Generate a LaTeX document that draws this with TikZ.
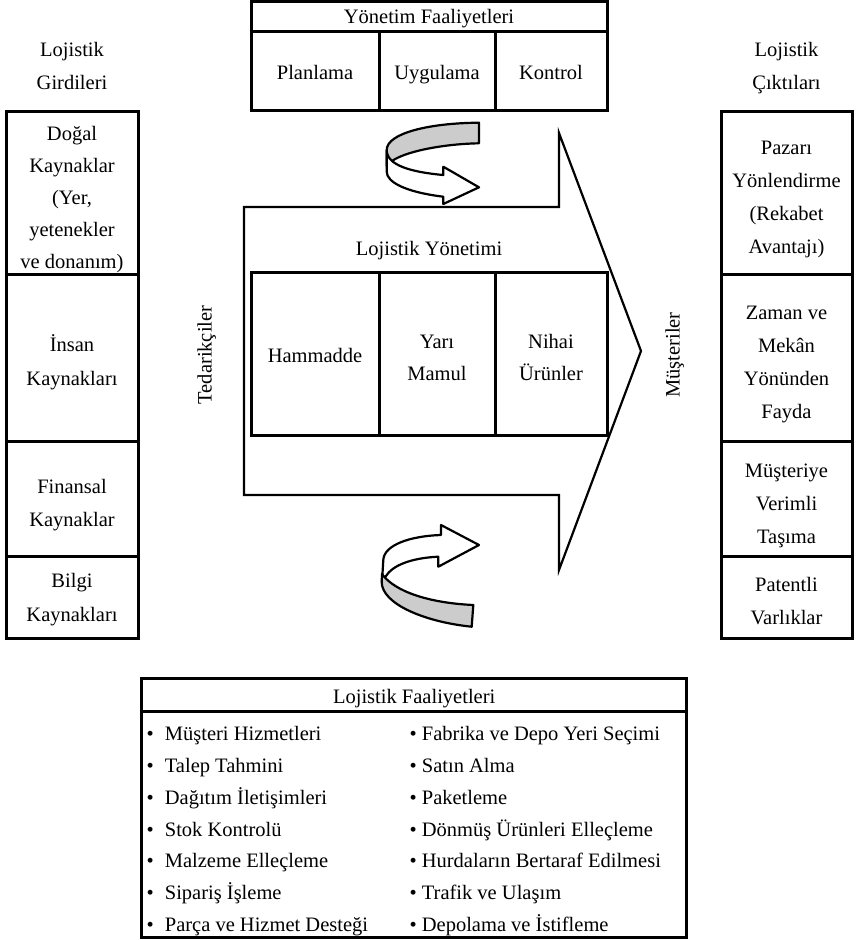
\documentclass[tikz,border=0pt]{standalone}
\usepackage{fontspec}
\setmainfont{Liberation Serif}
\definecolor{ribbon}{HTML}{CCCCCC}
\begin{document}
\begin{tikzpicture}[x=1pt,y=-1pt,
  every node/.style={font=\fontsize{20.5}{33}\selectfont, inner sep=0pt},
  cell/.style={draw, line width=3pt, rectangle, align=center, anchor=center},
  single/.style={text height=19pt, text depth=0.6pt},
  head/.style={text height=17pt, text depth=1.6pt},
  lines/.style={text height=#1, text depth=0pt},
  label/.style={align=center},
  flow/.style={draw, line width=2.2pt, line join=miter},
  band/.style={draw, line width=2.2pt, line join=round},
  item/.style={anchor=west, execute at begin node=\strut}]
\useasboundingbox (0,0) rectangle (855,940);

% management activities (top)
\node[cell, head, minimum width=356pt, minimum height=30pt] (yf) at (429,16) {Yönetim Faaliyetleri};
\node[cell, single, minimum width=128pt, minimum height=79pt] (plan) at (315,70.5) {Planlama};
\node[cell, single, minimum width=116pt, minimum height=79pt] (uyg) at (437,70.5) {Uygulama};
\node[cell, single, minimum width=112pt, minimum height=79pt] (kont) at (551,70.5) {Kontrol};

% large flow arrow
\draw[flow] (244,207) -- (559,207) -- (559,133) -- (641,351) -- (559,570)
  -- (559,495) -- (244,495) -- cycle;
\node[single] (ly) at (429,246) {Lojistik Yönetimi};
\node[cell, single, minimum width=128pt, minimum height=163pt] (ham) at (315,353.5) {Hammadde};
\node[cell, lines=53.1pt, minimum width=116pt, minimum height=163pt] (yari) at (437,353.5) {Yarı\\[-1.3pt]Mamul};
\node[cell, lines=53.1pt, minimum width=112pt, minimum height=163pt] (nihai) at (551,353.5) {Nihai\\[-1.3pt]Ürünler};
\node[rotate=90, execute at begin node=\strut] (ted) at (205,355) {Tedarikçiler};
\node[rotate=90, execute at begin node=\strut] (mus) at (673,355) {Müşteriler};

% upper twisted ribbon arrow
\draw[band, fill=ribbon] (479,122.7) .. controls (430,123) and (386.7,133) .. (386.7,150)
  -- (386.7,166) .. controls (395,153) and (440,144) .. (479,143.3) -- cycle;
\draw[band, fill=white] (386.7,150) .. controls (386.7,165) and (410,172) .. (443.3,175)
  -- (443.3,166.7) -- (479,187.3) -- (443.3,204) -- (443.3,196.7)
  .. controls (405,192) and (386.7,182) .. (386.7,171.7) -- cycle;

% lower twisted ribbon arrow
\draw[band, fill=white] (383.3,560) .. controls (384,545) and (410,536) .. (441,535)
  -- (441,525) -- (479,545) -- (438.3,566.7) -- (438.3,556.7)
  .. controls (410,558) and (392,566) .. (386,576) -- (382,582) -- cycle;
\draw[band, fill=ribbon] (382,574) .. controls (395,592) and (430,603) .. (473.3,605)
  -- (471.7,626.7) .. controls (425,622) and (381.7,604) .. (381.7,582) -- cycle;

% inputs (left)
\node[label, lines=45.4pt] (gir) at (72,67) {Lojistik\\Girdileri};
\node[cell, lines=151.4pt, minimum width=132pt, minimum height=163.3pt] (dogal) at (72,192.7)
  {Doğal\\[-1pt]Kaynaklar\\[-1pt](Yer,\\[-1pt]yetenekler\\[-1pt]ve donanım)};
\node[cell, lines=56.4pt, minimum width=132pt, minimum height=166.7pt] (insan) at (72,357.7) {İnsan\\[1pt]Kaynakları};
\node[cell, lines=56.4pt, minimum width=132pt, minimum height=115pt] (fin) at (72,498.5) {Finansal\\Kaynaklar};
\node[cell, lines=48.4pt, minimum width=132pt, minimum height=82pt] (bilgi) at (72,597) {Bilgi\\[1pt]Kaynakları};

% outputs (right)
\node[label, lines=45.4pt] (cik) at (786.5,67) {Lojistik\\Çıktıları};
\node[cell, lines=122.4pt, minimum width=131pt, minimum height=163.3pt] (pazar) at (786.5,192.7)
  {Pazarı\\Yönlendirme\\(Rekabet\\Avantajı)};
\node[cell, lines=122.4pt, minimum width=131pt, minimum height=166.7pt] (zaman) at (786.5,357.7)
  {Zaman ve\\Mekân\\Yönünden\\Fayda};
\node[cell, lines=89.4pt, minimum width=131pt, minimum height=115pt] (tasima) at (786.5,498.5)
  {Müşteriye\\Verimli\\Taşıma};
\node[cell, lines=54.4pt, minimum width=131pt, minimum height=82pt] (patent) at (786.5,597)
  {Patentli\\Varlıklar};

% logistics activities (bottom)
\node[cell, single, minimum width=545pt, minimum height=33pt] (lf) at (414.2,694.5) {Lojistik Faaliyetleri};
\node[cell, single, minimum width=545pt, minimum height=226pt] (lfbody) at (414.2,824) {};
\foreach \t [count=\i] in {Müşteri Hizmetleri, Talep Tahmini, Dağıtım İletişimleri,
    Stok Kontrolü, Malzeme Elleçleme, Sipariş İşleme, Parça ve Hizmet Desteği} {
  \pgfmathsetmacro{\yy}{734+31.8*(\i-1)}
  \node[item] (li\i) at (146.5,\yy) {\textbullet\hspace{11pt}\t};
}
\foreach \t [count=\i] in {Fabrika ve Depo Yeri Seçimi, Satın Alma, Paketleme,
    Dönmüş Ürünleri Elleçleme, Hurdaların Bertaraf Edilmesi, Trafik ve Ulaşım,
    Depolama ve İstifleme} {
  \pgfmathsetmacro{\yy}{734+31.8*(\i-1)}
  \node[item] (ri\i) at (409.5,\yy) {\textbullet\hspace{5pt}\t};
}
\end{tikzpicture}
\end{document}
